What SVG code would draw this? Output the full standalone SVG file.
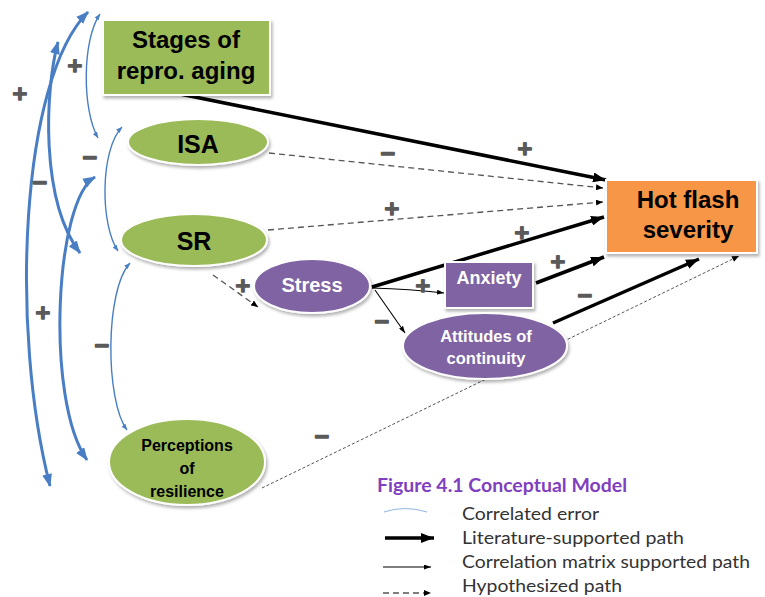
<svg xmlns="http://www.w3.org/2000/svg" width="765" height="597" viewBox="0 0 765 597">
<style>
.nt{font-family:"Liberation Sans",Arial,sans-serif;font-weight:bold;text-anchor:middle}
.sg{font-family:"DejaVu Sans","Liberation Sans",sans-serif;font-weight:bold;font-size:20px;fill:#5a5a5a;stroke:#5a5a5a;stroke-width:1.6;stroke-linejoin:round;text-anchor:middle;dominant-baseline:central}
.green{fill:#9BBB59;stroke:#fff;stroke-width:2}
.purple{fill:#8064A2;stroke:#fff;stroke-width:2}
.thick{stroke:#000;stroke-width:3.5;fill:none;marker-end:url(#aThick)}
.thin{stroke:#000;stroke-width:1.1;fill:none;marker-end:url(#aThin)}
.dash{stroke:#555;stroke-width:1.3;stroke-dasharray:6 4;fill:none;marker-end:url(#aDash)}
.dot{stroke:#555;stroke-width:1;stroke-dasharray:3 2;fill:none;marker-end:url(#aDash)}
.bthick{stroke:#4A7EC4;stroke-width:3;fill:none;marker-start:url(#aBlue);marker-end:url(#aBlue)}
.bthin{stroke:#4A7EC4;stroke-width:1.4;fill:none;marker-start:url(#aBlueS);marker-end:url(#aBlueS)}
.leg{font-family:Lato,"Open Sans",sans-serif;font-size:18px;fill:#333}
</style>
<defs>
<filter id="sh" x="-20%" y="-20%" width="140%" height="150%">
<feDropShadow dx="1.5" dy="2.5" stdDeviation="1.5" flood-color="#000" flood-opacity="0.3"/>
</filter>
<marker id="aThick" viewBox="0 0 13 10" refX="13" refY="5" markerWidth="13" markerHeight="10" orient="auto" markerUnits="userSpaceOnUse"><path d="M0,0 L13,5 L0,10 z" fill="#000"/></marker>
<marker id="aThin" viewBox="0 0 7 5" refX="7" refY="2.5" markerWidth="7" markerHeight="5" orient="auto" markerUnits="userSpaceOnUse"><path d="M0,0 L7,2.5 L0,5 z" fill="#000"/></marker>
<marker id="aDash" viewBox="0 0 7 6" refX="7" refY="3" markerWidth="7" markerHeight="6" orient="auto" markerUnits="userSpaceOnUse"><path d="M0,0 L7,3 L0,6 z" fill="#000"/></marker>
<marker id="aBlue" viewBox="0 0 13 10" refX="12" refY="5" markerWidth="13" markerHeight="10" orient="auto-start-reverse" markerUnits="userSpaceOnUse"><path d="M0,0 L13,5 L0,10 z" fill="#4A7EC4"/></marker>
<marker id="aBlueS" viewBox="0 0 6 5" refX="6" refY="2.5" markerWidth="6" markerHeight="5" orient="auto-start-reverse" markerUnits="userSpaceOnUse"><path d="M0,0 L6,2.5 L0,5 z" fill="#4A7EC4"/></marker>
</defs>
<rect width="765" height="597" fill="#fff"/>

<g id="connectors">
<path class="thick" d="M180,94 L606,180"/>
<path class="dash" d="M269,153 L603,188"/>
<path class="dash" d="M268,230 L603,202"/>
<path class="thick" d="M372,287 L604,217"/>
<path class="thick" d="M536,283 L604,257"/>
<path class="thick" d="M553,323 L699,259"/>
<path class="dot" d="M262,488 L739,256"/>
<path class="thin" d="M372,288 Q410,289 444,293"/>
<path class="thin" d="M375,290 L405,333"/>
<path class="dash" d="M213,275 L258,307"/>
<path class="bthin" d="M100,14 C82,40 82,110 98,138"/>
<path class="bthin" d="M122,127 C100,150 100,225 118,251"/>
<path class="bthin" d="M130,263 C105,290 105,400 127,430"/>
<path class="bthick" d="M88,12 C20,80 10,330 50,486"/>
<path class="bthick" d="M58,42 C45,90 40,200 80,253"/>
<path class="bthick" d="M95,177 C55,200 45,400 87,460"/>
<text class="sg" x="525" y="148">+</text>
<text class="sg" x="388" y="153">−</text>
<text class="sg" x="392" y="208">+</text>
<text class="sg" x="522" y="232">+</text>
<text class="sg" x="558" y="261">+</text>
<text class="sg" x="585" y="295">−</text>
<text class="sg" x="322" y="436">−</text>
<text class="sg" x="423" y="285">+</text>
<text class="sg" x="382" y="321">−</text>
<text class="sg" x="243" y="285">+</text>
<text class="sg" x="75" y="65">+</text>
<text class="sg" x="90" y="157">−</text>
<text class="sg" x="102" y="345">−</text>
<text class="sg" x="20" y="93">+</text>
<text class="sg" x="40" y="182">−</text>
<text class="sg" x="43" y="312">+</text>
</g>

<g id="stages">
<rect x="103" y="20" width="167" height="75" class="green" filter="url(#sh)"/>
<text class="nt" x="186" y="48" font-size="24">Stages of</text>
<text class="nt" x="186" y="79" font-size="24">repro. aging</text>
</g>
<g id="isa">
<ellipse cx="198" cy="142" rx="70" ry="23" class="green" filter="url(#sh)"/>
<text class="nt" x="198" y="153" font-size="25">ISA</text>
</g>
<g id="sr">
<ellipse cx="194" cy="240" rx="73" ry="26" class="green" filter="url(#sh)"/>
<text class="nt" x="194" y="250" font-size="25">SR</text>
</g>
<g id="perceptions">
<ellipse cx="187" cy="462" rx="78" ry="43" class="green" filter="url(#sh)"/>
<text class="nt" x="187" y="451" font-size="16">Perceptions</text>
<text class="nt" x="187" y="474" font-size="16">of</text>
<text class="nt" x="187" y="497" font-size="16">resilience</text>
</g>
<g id="stress">
<ellipse cx="312" cy="286" rx="58" ry="27" class="purple" filter="url(#sh)"/>
<text class="nt" x="312" y="292" font-size="20" fill="#fff">Stress</text>
</g>
<g id="anxiety">
<rect x="445" y="262" width="88" height="46" class="purple" filter="url(#sh)"/>
<text class="nt" x="489" y="284" font-size="18" fill="#fff">Anxiety</text>
</g>
<g id="attitudes">
<ellipse cx="485" cy="346" rx="82" ry="33" class="purple" filter="url(#sh)"/>
<text class="nt" x="486" y="342" font-size="16.5" fill="#fff">Attitudes of</text>
<text class="nt" x="486" y="364" font-size="16.5" fill="#fff">continuity</text>
</g>
<g id="hotflash">
<rect x="606" y="180" width="151" height="73" fill="#F79646" stroke="#fff" stroke-width="2" filter="url(#sh)"/>
<text class="nt" x="688" y="208" font-size="24">Hot flash</text>
<text class="nt" x="688" y="238" font-size="24">severity</text>
</g>

<g id="legend">
<text x="377" y="492" font-family="Lato,'Open Sans',sans-serif" font-weight="bold" font-size="18" fill="#7F3FBF" textLength="250" lengthAdjust="spacingAndGlyphs">Figure 4.1 Conceptual Model</text>
<path d="M384,512 Q405,505 427,512" stroke="#8FB4E3" stroke-width="1" fill="none"/>
<text class="leg" x="462" y="520" textLength="137" lengthAdjust="spacingAndGlyphs">Correlated error</text>
<path class="thick" d="M385,538 L434,538"/>
<text class="leg" x="462" y="544" textLength="222" lengthAdjust="spacingAndGlyphs">Literature-supported path</text>
<path class="thin" d="M383,567 L431,567"/>
<text class="leg" x="462" y="568" textLength="288" lengthAdjust="spacingAndGlyphs">Correlation matrix supported path</text>
<path class="dash" d="M383,593 L431,593"/>
<text class="leg" x="462" y="592" textLength="160" lengthAdjust="spacingAndGlyphs">Hypothesized path</text>
</g>
</svg>
